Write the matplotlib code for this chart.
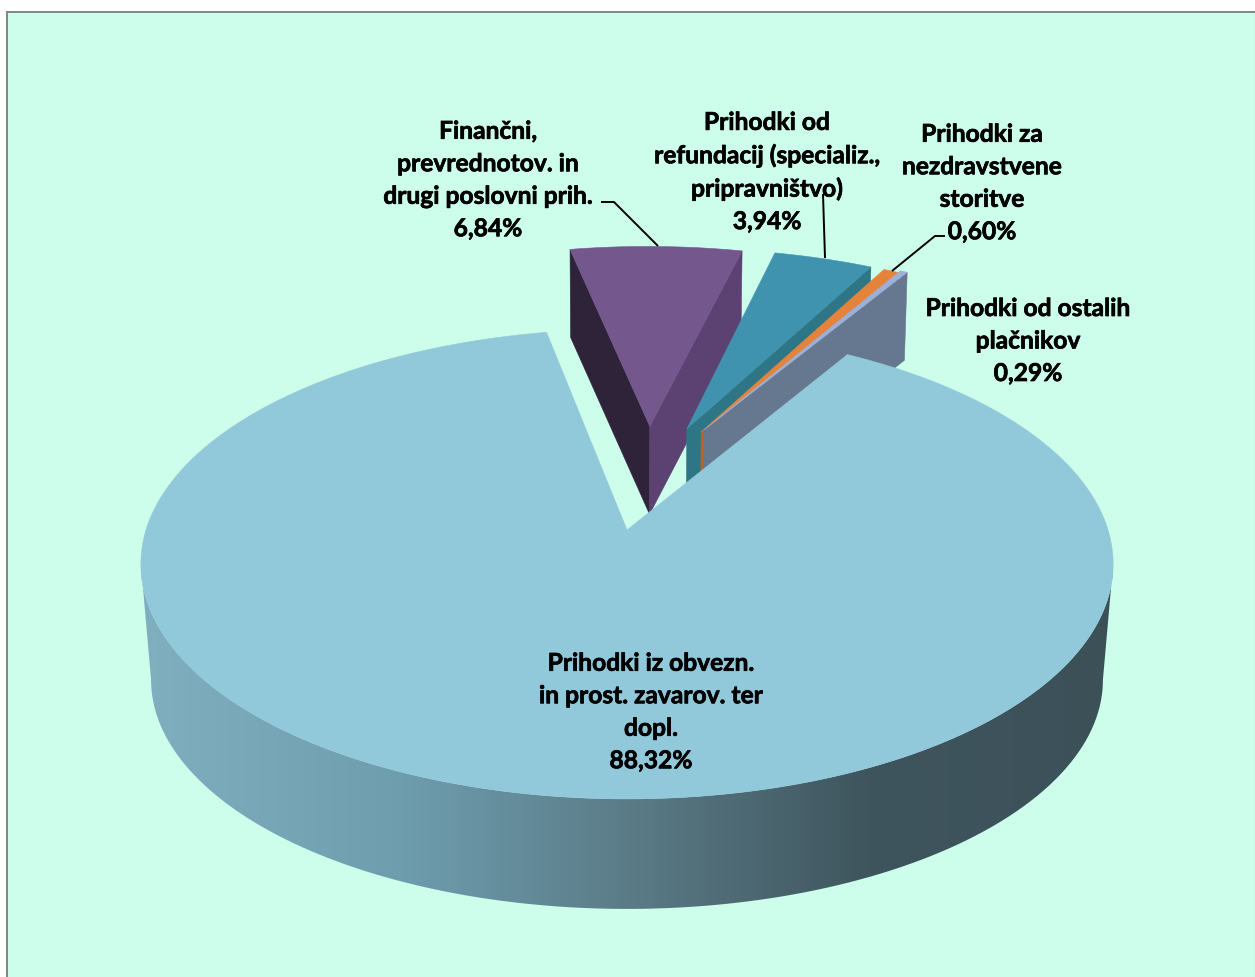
import numpy as np
import matplotlib
matplotlib.use("Agg")
import matplotlib.pyplot as plt
import matplotlib.patheffects as pe
from matplotlib.patches import Polygon, Rectangle
from matplotlib.colors import LinearSegmentedColormap

# ---------- data ----------
categories = ["Prihodki iz obvezn.\nin prost. zavarov. ter\ndopl.",
              "Finančni,\nprevrednotov. in\ndrugi poslovni prih.",
              "Prihodki od\nrefundacij (specializ.,\npripravništvo)",
              "Prihodki za\nnezdravstvene\nstoritve",
              "Prihodki od ostalih\nplačnikov"]
values = [88.32, 6.84, 3.94, 0.60, 0.29]

# ---------- style / layout ----------
top_colors = ["#92C9DA", "#74578C", "#3F93AE", "#E6833A", "#9DB0D8"]
wall_r_colors = [None, "#5C4272", "#2E7685", "#B5652B", "#65788F"]
wall_l_colors = [None, "#2F2339", None, None, None]
explode_angle = [0, 6.0, 15.8, 19.9, 20.2]
explode_r = [0, 0.485, 0.488, 0.483, 0.495]
exploded_radius = 1.018
label_xy = [(651, 713), (488, 181), (767, 173), (982, 184), (1028, 342)]
start_angle = 31.0
BG, FRAME = "#CCFEEB", "#868686"
CX, Y0, A, B, K = 627.0, 531.0, 481.0, 230.0, 0.1447
FONT = "Lato"
FS = 17.7


def project(X, Y):
    w = 1 + K * np.asarray(Y)
    return CX + A * np.asarray(X) / w, Y0 - B * np.asarray(Y) / w


def plane(theta, off=(0, 0), r=1.0):
    t = np.radians(theta)
    return off[0] + r * np.sin(t), off[1] + r * np.cos(t)


def lower(X, Y, main=False):
    sx, sy = project(X, Y)
    Y = np.asarray(Y)
    if main:
        return CX + (sx - CX) * 0.979, sy + np.interp(Y, [-1, -0.14, 0.4], [110, 116, 120])
    return CX + (sx - CX) * 0.99, sy + 88


fig = plt.figure(figsize=(12.55, 9.78), dpi=100, facecolor="white")
ax = fig.add_axes([0, 0, 1, 1])
ax.set_xlim(0, 1255)
ax.set_ylim(978, 0)
ax.axis("off")
ax.add_patch(Rectangle((7, 13), 1248, 970, fc=BG, ec="none", zorder=0))
ax.plot([7, 7], [978, 13], color=FRAME, lw=1.44, zorder=1, solid_capstyle="projecting")
ax.plot([7, 1255], [13, 13], color=FRAME, lw=1.44, zorder=1, solid_capstyle="projecting")
ax.plot([1254.5, 1254.5], [13, 978], color="#9DB5AC", lw=0.8, zorder=1)

spans = np.array(values) / sum(values) * 360
starts = start_angle + np.concatenate([[0], np.cumsum(spans)[:-1]])

# exploded slices, far to near, then main slice on top
z = 2
for i in [1, 2, 3, 4]:
    a0, a1 = starts[i], starts[i] + spans[i]
    e = np.radians(explode_angle[i])
    off = (explode_r[i] * np.sin(e), explode_r[i] * np.cos(e))
    th = np.linspace(a0, a1, 40)
    ax_, ay_ = plane(th, off, exploded_radius)
    tx, ty = project(ax_, ay_)
    apx, apy = project(off[0], off[1])
    abx, aby = lower(off[0], off[1])
    for col, ang in ((wall_l_colors[i], a0), (wall_r_colors[i], a1)):
        if col is None:
            continue
        pX, pY = plane(ang, off, exploded_radius)
        ox, oy = project(pX, pY)
        bx, by = lower(pX, pY)
        ax.add_patch(Polygon([(apx, apy), (ox, oy), (bx, by), (abx, aby)], closed=True,
                             fc=col, ec=col, lw=0.4, zorder=z))
    ax.add_patch(Polygon(np.column_stack([np.r_[apx, tx], np.r_[apy, ty]]), closed=True,
                         fc=top_colors[i], ec=top_colors[i], lw=0.4, zorder=z + 1))
    z += 2

# main slice: outer wall between the silhouette tangents, shaded left to right, then the top
a0, a1 = starts[0], starts[0] + spans[0]
tang = np.degrees(np.arcsin(K))
wth = np.linspace(90 + tang, 270 - tang, 300)
wx, wy = plane(wth)
tx, ty = project(wx, wy)
bx, by = lower(wx, wy, main=True)
wall = Polygon(np.column_stack([np.r_[tx, bx[::-1]], np.r_[ty, by[::-1]]]), closed=True,
               fc="none", ec="none", transform=ax.transData)
ax.add_patch(wall)
cmap = LinearSegmentedColormap.from_list(
    "w", [(0, "#80B0C0"), (0.27, "#6E9DAE"), (0.5, "#5B7C87"), (0.75, "#3F555D"), (1, "#3C5058")])
img = ax.imshow(np.linspace(0, 1, 512)[None, :], extent=(141, 1113, 930, 500), cmap=cmap,
                aspect="auto", zorder=z, interpolation="bilinear")
img.set_clip_path(wall)
ax.set_xlim(0, 1255)
ax.set_ylim(978, 0)

th = np.linspace(a0, a1, 720)
mx, my = plane(th)
tx, ty = project(mx, my)
ax.add_patch(Polygon(np.column_stack([np.r_[CX, tx], np.r_[Y0, ty]]), closed=True,
                     fc=top_colors[0], ec=top_colors[0], lw=0.4, zorder=z + 1))

# leader lines
for pts in ([(601, 203), (614, 203), (658, 247)],
            [(823, 195), (825, 259)],
            [(945, 237), (935, 237), (892, 272)]):
    p = np.array(pts)
    ax.plot(p[:, 0], p[:, 1], color="black", lw=1.4, zorder=z + 2, solid_capstyle="butt")

# labels
for name, v, (lx, ly) in zip(categories, values, label_xy):
    txt = name + "\n" + f"{v:.2f}".replace(".", ",") + "%"
    ax.text(lx, ly, txt, ha="center", va="center", family=FONT, fontweight="bold",
            fontsize=FS, linespacing=1.5, color="black", zorder=z + 3,
            path_effects=[pe.withStroke(linewidth=0.5, foreground="black")])

fig.savefig("out.png", dpi=100, facecolor="white")
